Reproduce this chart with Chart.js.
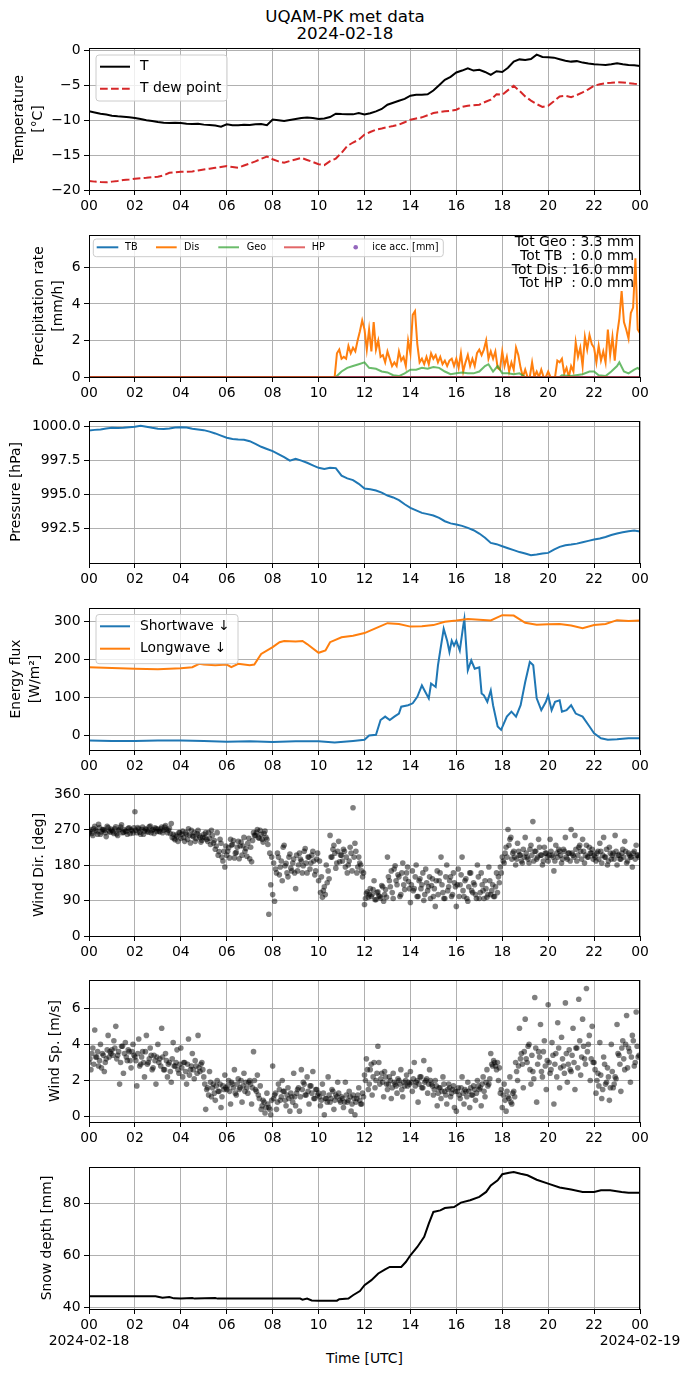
<!DOCTYPE html>
<html>
<head>
<meta charset="utf-8">
<script src="https://cdn.jsdelivr.net/npm/chart.js@4.4.1/dist/chart.umd.min.js"></script>
<style>
  body { margin: 0; background: #fff; }
  #fig { position: relative; width: 690px; height: 1377px; background: #fff; font-family: 'DejaVu Sans', sans-serif; color: #000; overflow: hidden; }
  #fig canvas { position: absolute; left: 0; }
  .txt { position: absolute; white-space: nowrap; text-align: center; }
</style>
</head>
<body>
<div id="fig">
  <div class="txt" style="left:0;width:690px;top:8px;font-size:16.7px;line-height:17px">UQAM-PK met data</div>
  <div class="txt" style="left:0;width:690px;top:25px;font-size:16.7px;line-height:17px">2024-02-18</div>
  <div class="txt" style="left:89px;width:551px;top:1351px;font-size:13.9px;line-height:14px">Time [UTC]</div>
</div>
<script>
// ---- data (hours UTC, 2024-02-18) ----
const xTickHours = [0, 2, 4, 6, 8, 10, 12, 14, 16, 18, 20, 22, 24];
const xTickLabels = ['00', '02', '04', '06', '08', '10', '12', '14', '16', '18', '20', '22', '00'];
const dateLabels = ['2024-02-18', '2024-02-19'];

const tempTicks = [-20, -15, -10, -5, 0];
const precipTicks = [0, 2, 4, 6];
const pressTicks = [992.5, 995, 997.5, 1000];
const fluxTicks = [0, 100, 200, 300];
const dirTicks = [0, 90, 180, 270, 360];
const speedTicks = [0, 2, 4, 6];
const snowTicks = [40, 60, 80];

function stepHours(start, step, n) {
  const a = [];
  for (let i = 0; i < n; i++) a.push(+(start + i * step).toFixed(4));
  return a;
}

// temperature, every 15 min
const tempHours = stepHours(0, 0.25, 97);
const airTemp = [
  -8.74, -8.9, -9.07, -9.2, -9.36, -9.45, -9.5, -9.58,
  -9.69, -9.85, -10.0, -10.12, -10.26, -10.38, -10.4, -10.36,
  -10.42, -10.5, -10.55, -10.5, -10.64, -10.7, -10.78, -10.93,
  -10.6, -10.72, -10.74, -10.65, -10.69, -10.6, -10.55, -10.72,
  -9.9, -10.0, -10.12, -9.98, -9.83, -9.7, -9.62, -9.7,
  -9.85, -9.75, -9.55, -9.07, -9.12, -9.15, -9.17, -8.98,
  -9.17, -9.0, -8.74, -8.4, -7.79, -7.5, -7.22, -6.95,
  -6.5, -6.35, -6.37, -6.3, -5.75, -5.0, -4.23, -3.8,
  -3.18, -2.9, -2.57, -2.9, -2.8, -3.1, -3.52, -3.0,
  -3.1, -2.5, -1.62, -1.3, -1.38, -1.25, -0.62, -0.95,
  -1.0, -1.05, -1.28, -1.5, -1.62, -1.55, -1.76, -1.9,
  -2.0, -2.05, -2.09, -2.0, -1.85, -2.0, -2.09, -2.15,
  -2.23
];
const dewPoint = [
  -18.7, -18.8, -18.86, -18.9, -18.8, -18.7, -18.57, -18.5,
  -18.38, -18.3, -18.24, -18.15, -18.1, -17.9, -17.53, -17.45,
  -17.39, -17.4, -17.34, -17.2, -17.05, -16.95, -16.82, -16.7,
  -16.58, -16.7, -16.82, -16.5, -16.2, -15.9, -15.53, -15.2,
  -15.6, -15.9, -16.1, -15.85, -15.63, -15.4, -15.7, -16.0,
  -16.3, -16.44, -15.87, -15.5, -14.68, -13.7, -13.2, -12.8,
  -12.07, -11.7, -11.35, -11.2, -11.0, -10.85, -10.64, -10.3,
  -9.93, -9.75, -9.6, -9.3, -8.98, -8.85, -8.74, -8.65,
  -8.5, -8.1, -7.93, -7.85, -7.79, -7.4, -7.08, -6.3,
  -6.37, -5.7, -5.08, -5.8, -6.6, -7.2, -7.7, -8.1,
  -7.93, -7.3, -6.6, -6.5, -6.7, -6.4, -6.03, -5.6,
  -5.08, -4.85, -4.7, -4.65, -4.56, -4.6, -4.7, -4.8,
  -4.85
];

// precipitation rate [mm/h]
const zeroHours = [0, 24];
const zeroRate = [0, 0];
const disHours = [0].concat(stepHours(10.7, 0.1, 134));
const disRate = [0,
  0, 1.3, 1.5, 1.0, 1.1, 1.0, 1.7, 1.3, 1.6, 1.4,
  2.0, 2.5, 3.1, 2.6, 1.5, 2.6, 1.4, 3.0, 1.5, 2.0,
  1.1, 1.2, 0.8, 1.4, 1.0, 0.6, 0.8, 0.6, 1.4, 0.9,
  1.1, 0.6, 2.0, 1.3, 3.4, 3.6, 1.8, 0.8, 1.0, 0.7,
  1.1, 0.7, 1.3, 1.0, 1.2, 0.8, 1.1, 0.7, 0.9, 0.6,
  0.9, 1.0, 0.6, 1.0, 0.5, 1.3, 0.3, 0.8, 1.2, 0.6,
  1.0, 0.6, 1.3, 1.5, 1.2, 1.5, 2.0, 1.0, 1.4, 1.0,
  1.4, 0.5, 0.4, 1.4, 0.6, 1.1, 0.3, 0.8, 0.4, 1.6,
  1.2, 0.5, 0.0, 0.4, 0.0, 0.0, 0.8, 0.0, 0.3, 0.0,
  0.4, 0.0, 0.0, 0.3, 0.0, 0.0, 0.0, 0.9, 0.8, 1.0,
  0.2, 0.5, 0.0, 0.6, 0.3, 1.9, 1.1, 1.6, 0.6, 2.2,
  1.5, 2.3, 1.8, 1.6, 0.8, 1.7, 0.9, 1.4, 0.8, 2.6,
  1.2, 2.2, 0.9, 2.3, 3.2, 4.7, 3.0, 2.6, 2.1, 3.5,
  3.8, 6.5, 2.6, 2.4
];
const geoHours = [0, 10.75, 11.0, 11.25, 11.5, 11.75, 12.0, 12.2, 12.5, 12.75,
  13.0, 13.25, 13.5, 13.75, 14.0, 14.25, 14.5, 14.75, 15.0, 15.25,
  15.5, 15.75, 16.0, 16.25, 16.5, 16.75, 17.0, 17.25, 17.4, 17.6,
  17.8, 18.0, 18.25, 18.5, 18.75, 19.0, 20.5, 20.6, 21.0, 21.5,
  21.8, 22.0, 22.2, 22.5, 22.75, 23.0, 23.1, 23.3, 23.5, 23.75, 23.9, 24];
const geoRate = [0, 0, 0.3, 0.5, 0.6, 0.7, 0.8, 0.5, 0.45, 0.3,
  0.25, 0.1, 0.05, 0.2, 0.4, 0.4, 0.5, 0.45, 0.55, 0.5,
  0.3, 0.15, 0.2, 0.25, 0.2, 0.2, 0.3, 0.6, 0.7, 0.3,
  0.6, 0.2, 0.2, 0.15, 0.2, 0, 0, 0.1, 0.05, 0.15,
  0.3, 0.3, 0.1, 0.05, 0.3, 0.6, 0.8, 0.3, 0.2, 0.4, 0.5, 0.4];
const precipTotals = ['Tot Geo : 3.3 mm', 'Tot TB  : 0.0 mm', 'Tot Dis : 16.0 mm', 'Tot HP  : 0.0 mm'];

// pressure [hPa], every 15 min
const pressure = [
  999.71, 999.75, 999.78, 999.85, 999.9, 999.88, 999.9, 999.95,
  999.98, 1000.05, 999.98, 999.9, 999.83, 999.82, 999.85, 999.93,
  999.95, 999.92, 999.83, 999.78, 999.73, 999.62, 999.49, 999.33,
  999.17, 999.08, 999.05, 999.03, 998.92, 998.72, 998.51, 998.35,
  998.19, 997.98, 997.75, 997.5, 997.63, 997.5, 997.34, 997.15,
  996.97, 996.88, 996.98, 996.95, 996.4, 996.2, 996.07, 995.8,
  995.46, 995.4, 995.31, 995.15, 994.94, 994.8, 994.6, 994.3,
  994.04, 993.85, 993.67, 993.58, 993.48, 993.3, 993.06, 992.9,
  992.82, 992.72, 992.57, 992.4, 992.16, 991.85, 991.47, 991.38,
  991.23, 991.08, 990.94, 990.8, 990.69, 990.57, 990.62, 990.7,
  990.74, 990.98, 991.18, 991.3, 991.35, 991.42, 991.52, 991.62,
  991.72, 991.8, 991.91, 992.05, 992.16, 992.25, 992.33, 992.38,
  992.3
];

// radiation [W/m2]
const swHours = [0, 1, 2, 3, 4, 5, 6, 7, 8, 9, 10,
  10.7, 11.5, 12, 12.2, 12.5, 12.7, 12.9, 13.1, 13.3, 13.5,
  13.6, 13.9, 14.1, 14.3, 14.5, 14.65, 14.8, 14.9, 15.1, 15.2,
  15.3, 15.45, 15.6, 15.7, 15.8, 15.9, 16.0, 16.15, 16.3, 16.35,
  16.5, 16.65, 16.8, 17.0, 17.1, 17.2, 17.35, 17.5, 17.6, 17.8,
  17.95, 18.2, 18.4, 18.6, 18.8, 19.0, 19.2, 19.35, 19.5, 19.7,
  19.9, 20.0, 20.15, 20.3, 20.5, 20.6, 20.8, 21.0, 21.2, 21.5,
  21.8, 22.0, 22.3, 22.6, 23.0, 23.5, 24];
const shortwave = [-13, -14, -14, -13, -13, -14, -16, -15, -17, -15, -15,
  -18, -14, -11, 0, 2, 41, 50, 41, 50, 58,
  76, 80, 85, 102, 132, 115, 98, 137, 128, 185,
  224, 281, 250, 220, 250, 237, 250, 224, 289, 307,
  172, 198, 176, 180, 111, 106, 89, 119, 80, 24,
  15, 50, 63, 50, 80, 141, 194, 185, 98, 67,
  89, 106, 67, 89, 93, 63, 67, 80, 58, 50,
  24, 6, -7, -11, -10, -7, -7];
const lwHours = [0, 1, 2, 3, 4, 4.5, 4.8, 5, 5.5, 6,
  6.2, 6.5, 7, 7.2, 7.5, 8, 8.3, 8.5, 9, 9.3,
  9.5, 10, 10.3, 10.5, 11, 11.5, 12, 12.5, 13, 13.5,
  14, 14.5, 15, 15.5, 16, 16.5, 17, 17.5, 18, 18.5,
  19, 19.5, 20, 20.5, 21, 21.5, 22, 22.5, 23, 23.5, 24];
const longwave = [180, 178, 176, 175, 177, 180, 189, 187, 185, 187,
  180, 189, 185, 187, 215, 233, 246, 249, 248, 249,
  241, 218, 224, 246, 259, 263, 270, 283, 296, 294,
  287, 288, 291, 300, 303, 307, 305, 303, 317, 316,
  297, 292, 293, 294, 290, 283, 291, 294, 304, 302, 303];

// wind, two interleaved 5-min samplings (one row per hour)
const windHours = stepHours(0, 1 / 12, 288);
const windHoursB = stepHours(1 / 24, 1 / 12, 288);
const windDir = [
  262, 270, 255, 278, 265, 283, 258, 270, 268, 252, 275, 263,
  268, 260, 277, 255, 270, 282, 263, 266, 258, 274, 269, 261,
  315, 262, 272, 258, 276, 266, 270, 263, 279, 268, 260, 272,
  271, 264, 276, 268, 280, 262, 273, 285, 258, 244, 252, 262,
  248, 266, 240, 258, 272, 236, 254, 262, 247, 268, 250, 243,
  258, 262, 240, 248, 268, 236, 220, 262, 214, 235, 190, 175,
  205, 224, 245, 232, 198, 212, 240, 228, 205, 250, 222, 235,
  196, 188, 262, 255, 270, 248, 258, 238, 266, 245, 55, 130,
  105, 88, 160, 200, 175, 140, 230, 184, 150, 208, 165, 195,
  120, 165, 210, 190, 178, 222, 160, 200, 185, 215, 155, 195,
  140, 110, 98, 125, 180, 165, 255, 200, 230, 172, 215, 188,
  205, 220, 175, 160, 190, 210, 325, 235, 160, 200, 180, 150,
  80, 108, 98, 120, 105, 140, 92, 112, 100, 128, 88, 118,
  200, 140, 165, 95, 178, 130, 150, 105, 185, 118, 160, 138,
  85, 165, 120, 180, 100, 145, 130, 90, 170, 115, 150, 128,
  100, 75, 165, 140, 200, 110, 95, 180, 125, 150, 105, 135,
  75, 170, 130, 200, 100, 145, 88, 160, 115, 135, 105, 180,
  95, 160, 115, 140, 98, 175, 105, 130, 100, 160, 150, 175,
  200, 185, 225, 270, 245, 195, 215, 180, 235, 205, 190, 220,
  250, 200, 185, 230, 290, 215, 195, 245, 205, 180, 225, 210,
  190, 245, 205, 165, 230, 200, 215, 185, 220, 250, 195, 210,
  270, 205, 255, 190, 225, 215, 245, 185, 230, 200, 210, 220,
  205, 190, 215, 235, 185, 250, 200, 180, 225, 195, 210, 255,
  180, 205, 195, 220, 240, 185, 210, 200, 175, 215, 230, 205
];
const windDirB = [
  266, 260, 272, 268, 258, 275, 264, 270, 262, 278, 266, 271,
  264, 272, 259, 268, 276, 262, 270, 265, 273, 260, 267, 274,
  268, 275, 263, 270, 258, 272, 266, 277, 262, 270, 274, 265,
  266, 272, 262, 276, 270, 268, 260, 250, 247, 256, 240, 262,
  258, 250, 262, 245, 256, 268, 252, 240, 260, 255, 238, 250,
  250, 245, 262, 232, 255, 242, 228, 205, 245, 200, 215, 228,
  215, 198, 230, 242, 210, 225, 196, 238, 228, 215, 202, 248,
  225, 242, 255, 262, 250, 268, 245, 260, 250, 232, 210, 200,
  185, 170, 210, 155, 190, 225, 178, 160, 200, 172, 185, 160,
  205, 180, 195, 160, 215, 185, 200, 170, 205, 190, 165, 210,
  190, 150, 115, 105, 135, 145, 200, 220, 210, 185, 240, 205,
  190, 215, 200, 180, 225, 165, 200, 215, 175, 185, 165, 160,
  95, 112, 105, 100, 118, 92, 110, 102, 96, 125, 105, 98,
  150, 125, 110, 170, 140, 155, 100, 160, 130, 145, 175, 120,
  130, 115, 150, 100, 140, 120, 160, 105, 135, 125, 95, 145,
  120, 140, 105, 160, 130, 95, 150, 115, 140, 100, 160, 125,
  130, 100, 155, 115, 140, 95, 125, 160, 110, 130, 95, 150,
  110, 130, 95, 120, 105, 140, 115, 100, 125, 110, 135, 160,
  190, 210, 200, 230, 250, 210, 200, 195, 215, 205, 185, 200,
  210, 195, 220, 205, 190, 215, 200, 225, 205, 190, 210, 200,
  205, 215, 200, 190, 210, 220, 205, 195, 215, 200, 210, 190,
  210, 200, 220, 205, 230, 195, 215, 205, 200, 225, 210, 195,
  200, 210, 195, 215, 205, 200, 220, 190, 210, 205, 195, 215,
  205, 195, 210, 200, 215, 190, 205, 200, 210, 195, 205, 200
];
const windSpeed = [
  3.0, 2.6, 3.8, 4.8, 3.3, 2.8, 4.0, 3.5, 2.5, 3.2, 4.5, 3.6,
  3.7, 4.2, 5.0, 3.4, 1.8, 3.9, 2.4, 4.1, 3.1, 3.6, 2.7, 4.0,
  3.3, 1.7, 4.3, 2.9, 3.6, 2.2, 4.5, 3.0, 3.8, 2.6, 3.4, 1.8,
  4.0, 3.2, 4.9, 2.6, 3.5, 2.2, 3.0, 1.9, 4.1, 2.8, 3.7, 2.4,
  3.8, 2.2, 3.0, 1.8, 4.3, 2.6, 3.5, 2.1, 2.8, 4.5, 2.5, 3.0,
  2.2, 0.4, 1.6, 2.5, 1.1, 1.8, 0.9, 2.0, 1.4, 0.5, 1.7, 2.3,
  1.5, 2.0, 0.7, 1.8, 2.6, 1.2, 2.1, 1.6, 0.8, 2.4, 1.9, 1.3,
  2.0, 0.7, 3.6, 1.5, 2.3, 1.0, 0.4, 0.9, 0.2, 1.3, 0.5, 0.1,
  2.8, 1.2, 0.4, 1.8, 0.9, 2.0, 1.4, 0.6, 1.6, 0.3, 1.1, 2.4,
  0.6, 1.5, 0.3, 2.6, 1.9, 1.2, 2.2, 0.7, 1.7, 2.5, 1.0, 1.5,
  1.3, 0.6, 1.8, 0.1, 1.0, 2.2, 0.8, 1.5, 0.4, 1.2, 1.9, 0.9,
  1.1, 0.5, 1.9, 0.8, 1.4, 0.3, 1.2, 0.1, 1.0, 1.6, 0.7, 1.3,
  2.3, 3.2, 1.5, 2.6, 1.2, 3.0, 2.0, 3.9, 1.8, 2.4, 1.1, 2.2,
  1.5, 2.2, 1.0, 2.4, 1.8, 1.3, 2.0, 2.6, 1.1, 1.7, 2.3, 1.9,
  2.5, 1.4, 3.0, 1.9, 0.8, 2.2, 1.6, 3.1, 2.0, 1.3, 2.6, 1.8,
  1.2, 2.0, 0.6, 1.6, 1.0, 2.2, 1.4, 0.7, 1.8, 1.1, 1.5, 0.5,
  0.3, 1.6, 1.0, 2.2, 0.7, 1.4, 1.9, 0.5, 1.2, 1.7, 0.9, 2.0,
  1.5, 0.6, 2.2, 1.1, 2.6, 1.8, 3.5, 2.8, 3.0, 2.6, 2.0, 1.3,
  0.5, 1.8, 0.3, 1.1, 2.2, 0.7, 1.4, 3.0, 2.0, 4.9, 3.5, 1.6,
  5.4, 3.0, 4.0, 1.8, 2.5, 6.6, 0.8, 3.6, 5.1, 2.2, 4.2, 1.5,
  6.2, 2.4, 4.1, 0.7, 3.5, 5.2, 1.6, 4.4, 2.8, 6.3, 1.9, 3.7,
  2.5, 4.9, 1.5, 3.8, 6.5, 2.3, 5.4, 3.2, 7.1, 4.0, 2.0, 5.0,
  3.0, 1.3, 2.4, 4.1, 1.0, 3.3, 1.8, 2.7, 0.9, 4.0, 1.6, 2.2,
  5.1, 3.4, 1.4, 4.2, 2.6, 5.6, 3.8, 1.9, 4.5, 2.8, 5.8, 3.3
];
const windSpeedB = [
  3.2, 3.5, 2.9, 3.3, 3.6, 3.1, 2.7, 3.4, 3.0, 3.7, 3.3, 3.5,
  3.4, 3.8, 3.2, 3.6, 3.0, 3.9, 3.5, 3.3, 3.7, 3.1, 3.6, 3.4,
  3.1, 3.5, 2.8, 3.3, 3.0, 3.6, 2.9, 3.2, 3.4, 2.7, 3.1, 3.3,
  3.0, 2.8, 3.3, 2.6, 3.1, 2.9, 2.5, 3.2, 2.8, 3.0, 2.6, 2.9,
  2.7, 3.0, 2.5, 2.9, 2.3, 2.8, 2.6, 3.1, 2.4, 2.7, 2.9, 2.6,
  1.8, 1.5, 1.2, 1.9, 1.6, 1.3, 1.7, 1.4, 1.8, 1.1, 1.5, 1.6,
  1.7, 1.4, 1.9, 1.6, 1.3, 1.8, 1.5, 2.0, 1.7, 1.4, 1.6, 1.9,
  1.8, 1.6, 2.0, 1.4, 1.2, 1.7, 0.6, 0.8, 0.5, 0.7, 0.4, 0.9,
  1.0, 1.3, 0.8, 1.5, 1.1, 1.4, 0.9, 1.2, 1.0, 1.3, 0.8, 1.1,
  1.3, 1.6, 1.1, 1.5, 1.8, 1.2, 1.4, 1.7, 1.3, 1.0, 1.5, 1.2,
  1.1, 0.9, 1.3, 1.0, 0.8, 1.2, 1.0, 1.4, 0.9, 1.1, 1.3, 0.8,
  1.0, 0.8, 1.2, 0.9, 1.1, 0.7, 1.0, 0.8, 1.2, 0.9, 0.7, 1.1,
  2.0, 2.6, 1.8, 2.9, 2.2, 1.6, 2.4, 3.0, 2.1, 1.9, 2.5, 1.8,
  1.8, 2.0, 1.6, 1.9, 1.7, 2.1, 1.8, 1.5, 1.9, 2.0, 1.7, 1.8,
  1.9, 2.1, 1.7, 2.0, 1.8, 2.2, 1.6, 1.9, 2.1, 1.8, 2.0, 1.7,
  1.5, 1.7, 1.3, 1.6, 1.4, 1.8, 1.2, 1.5, 1.6, 1.3, 1.7, 1.4,
  1.4, 1.2, 1.6, 1.3, 1.5, 1.1, 1.4, 1.6, 1.2, 1.5, 1.3, 1.7,
  1.6, 1.8, 1.4, 1.9, 1.7, 2.1, 2.9, 3.1, 2.8, 3.0, 2.7, 1.5,
  1.2, 0.9, 1.4, 1.0, 0.8, 1.3, 1.1, 2.5, 2.8, 3.2, 2.9, 3.6,
  3.2, 3.9, 2.6, 3.4, 2.1, 3.8, 2.9, 3.3, 2.5, 3.6, 2.8, 3.1,
  3.0, 2.6, 3.4, 2.9, 2.2, 3.8, 2.7, 3.2, 2.4, 3.5, 2.9, 2.6,
  3.4, 3.0, 3.8, 2.7, 4.2, 3.3, 3.9, 2.9, 3.6, 4.5, 3.2, 3.0,
  2.6, 2.0, 1.7, 2.3, 1.5, 2.9, 1.9, 2.2, 1.6, 2.5, 1.8, 2.1,
  3.5, 2.9, 3.8, 3.2, 4.0, 2.7, 3.6, 3.3, 4.2, 3.0, 3.9, 3.4
];

// snow depth [mm]
const snowHours = [0, 2.9, 3.0, 3.2, 3.5, 3.7, 4.0, 4.5, 4.6, 5.5,
  5.6, 9.2, 9.3, 9.5, 9.7, 10.0, 10.8, 10.9, 11.3, 11.5,
  11.8, 12.0, 12.3, 12.6, 12.9, 13.1, 13.6, 13.8, 14.0, 14.3,
  14.6, 14.8, 15.0, 15.3, 15.5, 15.9, 16.2, 16.6, 17.0, 17.3,
  17.5, 17.8, 18.0, 18.3, 18.5, 18.8, 19.1, 19.5, 20.0, 20.5,
  21.0, 21.5, 22.0, 22.3, 22.7, 23.2, 23.5, 24];
const snowDepth = [44.3, 44.3, 44.1, 43.7, 44.0, 43.5, 43.4, 43.6, 43.4, 43.6,
  43.4, 43.4, 43.0, 43.4, 42.7, 42.6, 42.6, 43.2, 43.4, 44.7,
  46.3, 48.6, 50.5, 53.1, 54.7, 55.6, 55.6, 57.5, 60.1, 63.3,
  67.2, 72.3, 76.8, 77.4, 78.3, 78.7, 80.4, 81.3, 82.6, 84.5,
  87.0, 89.0, 91.3, 91.9, 92.2, 91.5, 90.9, 89.2, 87.7, 86.2,
  85.4, 84.5, 84.5, 85.1, 85.1, 84.5, 84.2, 84.2];

// ---- drawing ----
const FONT = 'DejaVu Sans';
const PAD_TOP = 14;
const PANEL_H = 142;
const fig = document.getElementById('fig');

function pts(xs, ys) { return xs.map((x, i) => ({ x: x, y: ys[i] })); }
function fmtNum(v) { return v < 0 ? '\u2212' + Math.abs(v) : String(v); }

function boxPath(ctx, x, y, w, h, r) {
  ctx.beginPath();
  ctx.moveTo(x + r, y);
  ctx.arcTo(x + w, y, x + w, y + h, r);
  ctx.arcTo(x + w, y + h, x, y + h, r);
  ctx.arcTo(x, y + h, x, y, r);
  ctx.arcTo(x, y, x + w, y, r);
  ctx.closePath();
}

// axes frame, legend and text notes
const framePlugin = {
  id: 'frame',
  afterDatasetsDraw(chart, args, o) {
    const ctx = chart.ctx, a = chart.chartArea, off = o.top;
    ctx.save();
    ctx.strokeStyle = '#000';
    ctx.lineWidth = 1;
    ctx.strokeRect(a.left + 0.5, a.top + 0.5, a.right - a.left - 1, a.bottom - a.top);
    if (o.legend) {
      const L = o.legend;
      const [x0, y0, x1, y1] = L.box;
      boxPath(ctx, x0, y0 - off, x1 - x0, y1 - y0, 3);
      ctx.fillStyle = 'rgba(255,255,255,0.8)';
      ctx.fill();
      ctx.strokeStyle = '#cccccc';
      ctx.lineWidth = 1;
      ctx.stroke();
      ctx.font = L.size + 'px "' + FONT + '"';
      ctx.textBaseline = 'middle';
      ctx.textAlign = 'left';
      L.items.forEach(it => {
        const ds = chart.data.datasets[it.ds];
        const y = it.y - off;
        if (it.dot) {
          ctx.fillStyle = ds.backgroundColor;
          ctx.beginPath();
          ctx.arc(it.h[0], y, it.dot, 0, 2 * Math.PI);
          ctx.fill();
        } else {
          ctx.strokeStyle = ds.borderColor;
          ctx.lineWidth = ds.borderWidth;
          ctx.setLineDash(ds.borderDash || []);
          ctx.beginPath();
          ctx.moveTo(it.h[0], y);
          ctx.lineTo(it.h[1], y);
          ctx.stroke();
          ctx.setLineDash([]);
        }
        ctx.fillStyle = '#000';
        ctx.fillText(ds.label, it.tx, y);
      });
    }
    if (o.notes) {
      const N = o.notes;
      ctx.font = N.size + 'px "' + FONT + '"';
      ctx.textBaseline = 'middle';
      ctx.textAlign = 'right';
      ctx.fillStyle = '#000';
      N.lines.forEach((t, i) => ctx.fillText(t, N.x, N.ys[i] - off));
    }
    ctx.restore();
  }
};

const GRID = { color: '#b0b0b0', lineWidth: 1, tickColor: '#000', tickLength: 5, tickWidth: 1 };
const BORDER = { display: true, color: '#000', width: 1 };

function makePanel(p) {
  const canvasTop = p.top - PAD_TOP;
  const h = PAD_TOP + PANEL_H + p.xh;
  const cv = document.createElement('canvas');
  cv.width = 690;
  cv.height = h;
  cv.style.top = canvasTop + 'px';
  cv.style.width = '690px';
  cv.style.height = h + 'px';
  fig.appendChild(cv);
  const n = p.datasets.length;
  const datasets = p.datasets.map((d, i) => Object.assign({
    order: n - i, pointRadius: 0, tension: 0, fill: false, borderWidth: 2
  }, d));
  return new Chart(cv, {
    type: 'line',
    data: { datasets: datasets },
    options: {
      responsive: false,
      animation: false,
      events: [],
      layout: { padding: { top: PAD_TOP, right: 50, left: 0, bottom: 0 } },
      plugins: {
        legend: { display: false },
        tooltip: { enabled: false },
        frame: { top: canvasTop, legend: p.legend, notes: p.notes }
      },
      scales: {
        x: {
          type: 'linear', min: 0, max: 24,
          afterFit: s => { s.height = p.xh; },
          afterBuildTicks: s => { s.ticks = xTickHours.map(v => ({ value: v })); },
          ticks: {
            autoSkip: false, maxRotation: 0, minRotation: 0, padding: 3, color: '#000',
            font: { family: FONT, size: 13.9, lineHeight: p.xLineHeight || 1.2 },
            callback: (v, i) => p.xLabel ? p.xLabel(i) : xTickLabels[i]
          },
          grid: GRID, border: BORDER
        },
        y: {
          type: 'linear', min: p.min, max: p.max,
          afterFit: s => { s.width = 89; },
          afterBuildTicks: s => { s.ticks = p.ticks.map(v => ({ value: v })); },
          ticks: { padding: 3.5, color: '#000', font: { family: FONT, size: 13.9 }, callback: p.fmt || fmtNum },
          title: {
            display: true, text: p.ylabel, color: '#000',
            font: { family: FONT, size: 13.9, lineHeight: 1.325 },
            padding: { top: p.titlePad, bottom: 0 }
          },
          grid: GRID, border: BORDER
        }
      }
    },
    plugins: [framePlugin]
  });
}

function lineLegendItem(ds, y) { return { ds: ds, y: y, h: [100, 130], tx: 140 }; }
function scatterSet(label, xs, ys) {
  return { label: label, type: 'scatter', data: pts(xs, ys), backgroundColor: 'rgba(0,0,0,0.5)', pointRadius: 2.8, borderWidth: 0 };
}

// Temperature
makePanel({
  top: 48, xh: 30, min: -20, max: 0.33, ticks: tempTicks,
  ylabel: ['Temperature', '[\u00b0C]'], titlePad: 10.6,
  datasets: [
    { label: 'T', data: pts(tempHours, airTemp), borderColor: '#000000' },
    { label: 'T dew point', data: pts(tempHours, dewPoint), borderColor: '#d62728', borderDash: [7.7, 3.3] }
  ],
  legend: { box: [96, 55, 227, 101], size: 13.9, items: [lineLegendItem(0, 66.7), lineLegendItem(1, 88.7)] }
});

// Precipitation
makePanel({
  top: 235, xh: 30, min: 0, max: 7.77, ticks: precipTicks,
  ylabel: ['Precipitation rate', '[mm/h]'], titlePad: 30.4,
  datasets: [
    { label: 'TB', data: pts(zeroHours, zeroRate), borderColor: '#1f77b4' },
    { label: 'Dis', data: pts(disHours, disRate), borderColor: '#ff7f0e' },
    { label: 'Geo', data: pts(geoHours, geoRate), borderColor: 'rgba(44,160,44,0.7)' },
    { label: 'HP', data: pts(zeroHours, zeroRate), borderColor: 'rgba(214,39,40,0.7)' },
    { label: 'ice acc. [mm]', type: 'scatter', data: [], backgroundColor: '#9467bd', pointRadius: 2.5, borderWidth: 0 }
  ],
  legend: {
    box: [93.3, 239, 443.3, 256.7], size: 9.7, items: [
      { ds: 0, y: 247.3, h: [96.7, 118.3], tx: 125 },
      { ds: 1, y: 247.3, h: [156, 176.7], tx: 184 },
      { ds: 2, y: 247.3, h: [218.3, 239], tx: 246.7 },
      { ds: 3, y: 247.3, h: [284, 305], tx: 311.7 },
      { ds: 4, y: 247.3, h: [355.7], dot: 2.3, tx: 372.3 }
    ]
  },
  notes: { x: 634, ys: [242.7, 256.3, 270, 283.5], size: 13.9, lines: precipTotals }
});

// Pressure
makePanel({
  top: 421, xh: 30, min: 990.0, max: 1000.4, ticks: pressTicks,
  ylabel: 'Pressure [hPa]', titlePad: 6.7, fmt: v => v.toFixed(1),
  datasets: [
    { label: 'P', data: pts(tempHours, pressure), borderColor: '#1f77b4' }
  ]
});

// Radiation
makePanel({
  top: 608, xh: 30, min: -38, max: 336, ticks: fluxTicks,
  ylabel: ['Energy flux', '[W/m\u00b2]'], titlePad: 7.5,
  datasets: [
    { label: 'Shortwave \u2193', data: pts(swHours, shortwave), borderColor: '#1f77b4' },
    { label: 'Longwave \u2193', data: pts(lwHours, longwave), borderColor: '#ff7f0e' }
  ],
  legend: { box: [96, 614.5, 238, 663.7], size: 13.9, items: [lineLegendItem(0, 626.3), lineLegendItem(1, 648.7)] }
});

// Wind direction
makePanel({
  top: 794, xh: 30, min: 0, max: 360, ticks: dirTicks,
  ylabel: 'Wind Dir. [deg]', titlePad: 29.8,
  datasets: [scatterSet('dir', windHours, windDir), scatterSet('dirB', windHoursB, windDirB)]
});

// Wind speed
makePanel({
  top: 980, xh: 30, min: -0.3, max: 7.57, ticks: speedTicks,
  ylabel: 'Wind Sp. [m/s]', titlePad: 46.3,
  datasets: [scatterSet('sp', windHours, windSpeed), scatterSet('spB', windHoursB, windSpeedB)]
});

// Snow depth
makePanel({
  top: 1167, xh: 50, min: 39.4, max: 94.1, ticks: snowTicks,
  ylabel: 'Snow depth [mm]', titlePad: 38.4, xLineHeight: 1.15,
  xLabel: i => i === 0 ? [xTickLabels[i], dateLabels[0]] : (i === xTickLabels.length - 1 ? [xTickLabels[i], dateLabels[1]] : xTickLabels[i]),
  datasets: [
    { label: 'snow', data: pts(snowHours, snowDepth), borderColor: '#000000' }
  ]
});
</script>
</body>
</html>
